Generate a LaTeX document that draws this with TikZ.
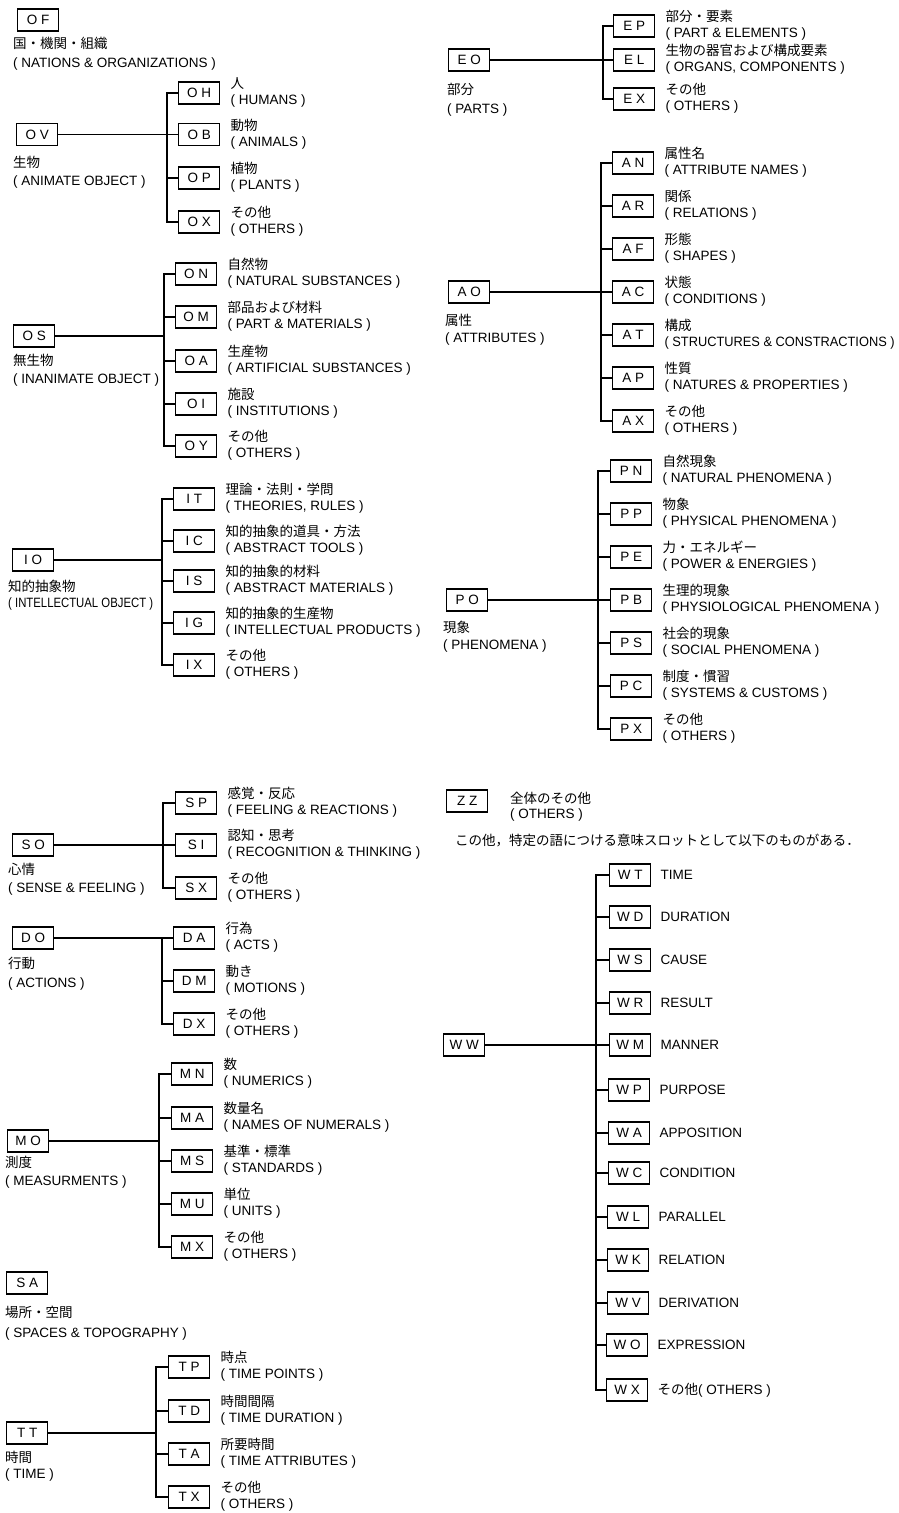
\documentclass[tikz,border=0pt]{standalone}
\usepackage{graphicx}
\usepackage{fontspec}
\setmainfont{Liberation Sans}
\newfontfamily\jpfont{Noto Sans CJK JP}

% leaf: name, code, west x, centre y, Japanese label, English label
\newcommand\leaf[6]{%
  \node[cbox, anchor=west] (#1) at (#3,#4) {#2};
  \node[jlab] (#1j) at ([xshift=10pt,yshift=4.5pt]#1.east) {#5};
  \node[elab] (#1e) at ([xshift=10pt,yshift=-11.7pt]#1.east) {#6};}
% wleaf: name, code, west x, centre y, label
\newcommand\wleaf[5]{%
  \node[cbox, anchor=west] (#1) at (#3,#4) {#2};
  \node[elab] (#1e) at ([xshift=9pt,yshift=-4.8pt]#1.east) {#5};}
% topic: name, code, west x, centre y, label x, jp baseline, en baseline, jp, en
\newcommand\topic[9]{%
  \node[cbox, anchor=west] (#1) at (#3,#4) {#2};
  \node[jlab] (#1j) at (#5,#6) {#8};
  \node[elab] (#1e) at (#5,#7) {#9};}
% horizontally condensed text
\newcommand\narrow[2]{\scalebox{#1}[1]{#2}}

\begin{document}
\begin{tikzpicture}[x=1pt,y=-1pt,
  cbox/.style={draw, line width=1.35pt, minimum width=41pt, minimum height=22pt,
    inner sep=0pt, font=\fontsize{13.5}{15}\selectfont},
  jlab/.style={anchor=base west, inner sep=0pt, font=\jpfont\fontsize{13.5}{15}\selectfont},
  elab/.style={anchor=base west, inner sep=0pt, font=\fontsize{13.5}{15}\selectfont},
  wire/.style={line width=1.1pt}]
\useasboundingbox (0,0) rectangle (899,1513);

% ---------------- left column ----------------
\topic{OF}{O F}{17}{20}{13}{48}{67}{国・機関・組織}{( NATIONS \& ORGANIZATIONS )}

\topic{OV}{O V}{16}{134.5}{13}{167}{185}{生物}{( ANIMATE OBJECT )}
\leaf{OH}{O H}{178}{93}{人}{( HUMANS )}
\leaf{OB}{O B}{178}{134.5}{動物}{( ANIMALS )}
\leaf{OP}{O P}{178}{178}{植物}{( PLANTS )}
\leaf{OX}{O X}{178}{222}{その他}{( OTHERS )}
\coordinate (OVbar) at (167,0);
\draw[wire] (OH.west) -| (OX.west -| OVbar) -- (OX.west);
\draw[wire] (OV.east) -- (OV.east -| OVbar);
\foreach \n in {OB,OP} \draw[wire] (\n.west) -- (\n.west -| OVbar);

\topic{OS}{O S}{13}{336}{13}{365}{383}{無生物}{( INANIMATE OBJECT )}
\leaf{ON}{O N}{175}{274}{自然物}{( NATURAL SUBSTANCES )}
\leaf{OM}{O M}{175}{317}{部品および材料}{( PART \& MATERIALS )}
\leaf{OA}{O A}{175}{361}{生産物}{( ARTIFICIAL SUBSTANCES )}
\leaf{OI}{O I}{175}{404}{施設}{( INSTITUTIONS )}
\leaf{OY}{O Y}{175}{446}{その他}{( OTHERS )}
\coordinate (OSbar) at (164,0);
\draw[wire] (ON.west) -| (OY.west -| OSbar) -- (OY.west);
\draw[wire] (OS.east) -- (OS.east -| OSbar);
\foreach \n in {OM,OA,OI} \draw[wire] (\n.west) -- (\n.west -| OSbar);

\topic{IO}{I O}{12}{560}{8}{591}{607}{知的抽象物}{\narrow{0.84}{( INTELLECTUAL OBJECT )}}
\leaf{IT}{I T}{173}{499}{理論・法則・学問}{( THEORIES, RULES )}
\leaf{IC}{I C}{173}{541}{知的抽象的道具・方法}{( ABSTRACT TOOLS )}
\leaf{IS}{I S}{173}{581}{知的抽象的材料}{( ABSTRACT MATERIALS )}
\leaf{IG}{I G}{173}{623}{知的抽象的生産物}{( INTELLECTUAL PRODUCTS )}
\leaf{IX}{I X}{173}{665}{その他}{( OTHERS )}
\coordinate (IObar) at (162,0);
\draw[wire] (IT.west) -| (IX.west -| IObar) -- (IX.west);
\draw[wire] (IO.east) -- (IO.east -| IObar);
\foreach \n in {IC,IS,IG} \draw[wire] (\n.west) -- (\n.west -| IObar);

\topic{SO}{S O}{12}{845}{8}{874}{892}{心情}{( SENSE \& FEELING )}
\leaf{SP}{S P}{175}{803}{感覚・反応}{( FEELING \& REACTIONS )}
\leaf{SI}{S I}{175}{845}{認知・思考}{( RECOGNITION \& THINKING )}
\leaf{SX}{S X}{175}{888}{その他}{( OTHERS )}
\coordinate (SObar) at (163,0);
\draw[wire] (SP.west) -| (SX.west -| SObar) -- (SX.west);
\draw[wire] (SO.east) -- (SO.east -| SObar);
\draw[wire] (SI.west) -- (SI.west -| SObar);

\topic{DO}{D O}{12}{938}{8}{968}{987}{行動}{( ACTIONS )}
\leaf{DA}{D A}{173}{938}{行為}{( ACTS )}
\leaf{DM}{D M}{173}{981}{動き}{( MOTIONS )}
\leaf{DX}{D X}{173}{1024}{その他}{( OTHERS )}
\coordinate (DObar) at (162,0);
\draw[wire] (DA.west) -| (DX.west -| DObar) -- (DX.west);
\draw[wire] (DO.east) -- (DO.east -| DObar);
\draw[wire] (DM.west) -- (DM.west -| DObar);

\topic{MO}{M O}{7}{1141}{5}{1167}{1185}{測度}{( MEASURMENTS )}
\leaf{MN}{M N}{171}{1074}{数}{( NUMERICS )}
\leaf{MA}{M A}{171}{1118}{数量名}{( NAMES OF NUMERALS )}
\leaf{MS}{M S}{171}{1161}{基準・標準}{( STANDARDS )}
\leaf{MU}{M U}{171}{1204}{単位}{( UNITS )}
\leaf{MX}{M X}{171}{1247}{その他}{( OTHERS )}
\coordinate (MObar) at (159,0);
\draw[wire] (MN.west) -| (MX.west -| MObar) -- (MX.west);
\draw[wire] (MO.east) -- (MO.east -| MObar);
\foreach \n in {MA,MS,MU} \draw[wire] (\n.west) -- (\n.west -| MObar);

\topic{SA}{S A}{6}{1283}{5}{1317}{1337}{場所・空間}{( SPACES \& TOPOGRAPHY )}

\topic{TT}{T T}{6}{1433}{5}{1462}{1478}{時間}{( TIME )}
\leaf{TP}{T P}{168}{1367}{時点}{( TIME POINTS )}
\leaf{TD}{T D}{168}{1411}{時間間隔}{( TIME DURATION )}
\leaf{TA}{T A}{168}{1454}{所要時間}{( TIME ATTRIBUTES )}
\leaf{TX}{T X}{168}{1497}{その他}{( OTHERS )}
\coordinate (TTbar) at (156,0);
\draw[wire] (TP.west) -| (TX.west -| TTbar) -- (TX.west);
\draw[wire] (TT.east) -- (TT.east -| TTbar);
\foreach \n in {TD,TA} \draw[wire] (\n.west) -- (\n.west -| TTbar);

% ---------------- right column ----------------
\topic{EO}{E O}{448}{60}{447}{94}{113}{部分}{( PARTS )}
\leaf{EP}{E P}{613}{26}{部分・要素}{( PART \& ELEMENTS )}
\leaf{EL}{E L}{613}{60}{生物の器官および構成要素}{( ORGANS, COMPONENTS )}
\leaf{EX}{E X}{613}{99}{その他}{( OTHERS )}
\coordinate (EObar) at (603,0);
\draw[wire] (EP.west) -| (EX.west -| EObar) -- (EX.west);
\draw[wire] (EO.east) -- (EO.east -| EObar);
\draw[wire] (EL.west) -- (EL.west -| EObar);

\topic{AO}{A O}{448}{292}{445}{325}{342}{属性}{( ATTRIBUTES )}
\leaf{AN}{A N}{612}{163}{属性名}{( ATTRIBUTE NAMES )}
\leaf{AR}{A R}{612}{206}{関係}{( RELATIONS )}
\leaf{AF}{A F}{612}{249}{形態}{( SHAPES )}
\leaf{AC}{A C}{612}{292}{状態}{( CONDITIONS )}
\leaf{AT}{A T}{612}{335}{構成}{\narrow{0.95}{( STRUCTURES \& CONSTRACTIONS )}}
\leaf{AP}{A P}{612}{378}{性質}{( NATURES \& PROPERTIES )}
\leaf{AX}{A X}{612}{421}{その他}{( OTHERS )}
\coordinate (AObar) at (601,0);
\draw[wire] (AN.west) -| (AX.west -| AObar) -- (AX.west);
\draw[wire] (AO.east) -- (AO.east -| AObar);
\foreach \n in {AR,AF,AC,AT,AP} \draw[wire] (\n.west) -- (\n.west -| AObar);

\topic{PO}{P O}{446}{600}{443}{632}{649}{現象}{( PHENOMENA )}
\leaf{PN}{P N}{610}{471}{自然現象}{( NATURAL PHENOMENA )}
\leaf{PP}{P P}{610}{514}{物象}{( PHYSICAL PHENOMENA )}
\leaf{PE}{P E}{610}{557}{力・エネルギー}{( POWER \& ENERGIES )}
\leaf{PB}{P B}{610}{600}{生理的現象}{( PHYSIOLOGICAL PHENOMENA )}
\leaf{PS}{P S}{610}{643}{社会的現象}{( SOCIAL PHENOMENA )}
\leaf{PC}{P C}{610}{686}{制度・慣習}{( SYSTEMS \& CUSTOMS )}
\leaf{PX}{P X}{610}{729}{その他}{( OTHERS )}
\coordinate (PObar) at (598,0);
\draw[wire] (PN.west) -| (PX.west -| PObar) -- (PX.west);
\draw[wire] (PO.east) -- (PO.east -| PObar);
\foreach \n in {PP,PE,PB,PS,PC} \draw[wire] (\n.west) -- (\n.west -| PObar);

\node[cbox, anchor=west] (ZZ) at (446,801) {Z Z};
\node[jlab] (ZZj) at (510,803) {全体のその他};
\node[elab] (ZZe) at (510,818) {( OTHERS )};
\node[jlab] (note) at (455,845) {この他，特定の語につける意味スロットとして以下のものがある．};

\node[cbox, anchor=west] (WW) at (443,1045) {W W};
\wleaf{WT}{W T}{609}{875}{TIME}
\wleaf{WD}{W D}{609}{917}{DURATION}
\wleaf{WS}{W S}{609}{960}{CAUSE}
\wleaf{WR}{W R}{609}{1003}{RESULT}
\wleaf{WM}{W M}{609}{1045}{MANNER}
\wleaf{WP}{W P}{608}{1090}{PURPOSE}
\wleaf{WA}{W A}{608}{1133}{APPOSITION}
\wleaf{WC}{W C}{608}{1173}{CONDITION}
\wleaf{WL}{W L}{607}{1217}{PARALLEL}
\wleaf{WK}{W K}{607}{1260}{RELATION}
\wleaf{WV}{W V}{607}{1303}{DERIVATION}
\wleaf{WO}{W O}{606}{1345}{EXPRESSION}
\node[cbox, anchor=west] (WX) at (606,1390) {W X};
\node[elab] (WXe) at ([xshift=9pt,yshift=-4.8pt]WX.east) {{\jpfont その他}( OTHERS )};
\coordinate (WWbar) at (596,0);
\draw[wire] (WT.west) -| (WX.west -| WWbar) -- (WX.west);
\draw[wire] (WW.east) -- (WW.east -| WWbar);
\foreach \n in {WD,WS,WR,WM,WP,WA,WC,WL,WK,WV,WO} \draw[wire] (\n.west) -- (\n.west -| WWbar);
\end{tikzpicture}
\end{document}
